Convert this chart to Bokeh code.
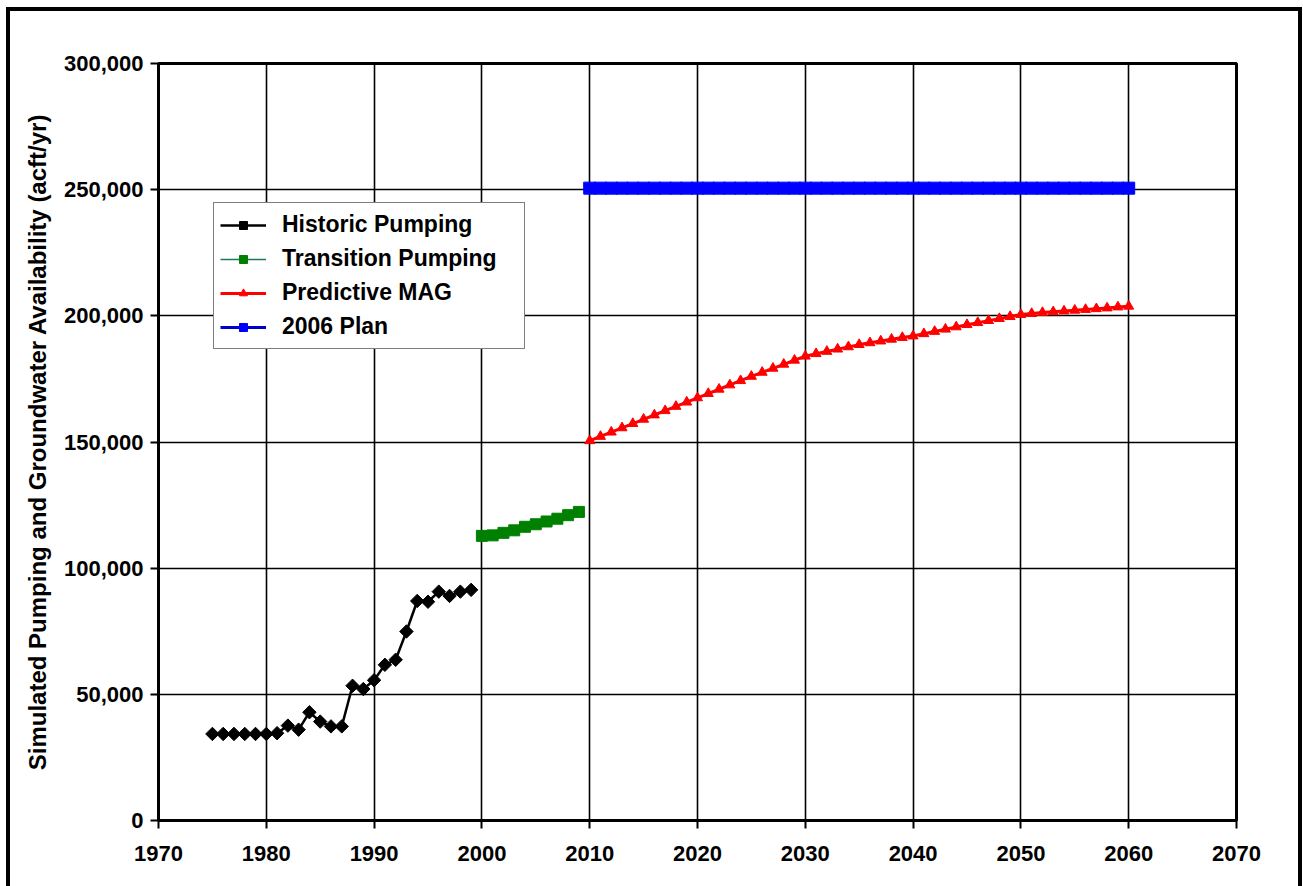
import numpy as np
from bokeh.plotting import figure
from bokeh.models import Range1d, FixedTicker, NumeralTickFormatter, Legend, LegendItem
from bokeh.embed import file_html
from bokeh.resources import INLINE

# ---------------- data ----------------
hist_years = list(range(1975, 2000))
hist_pumping = [34300, 34300, 34300, 34300, 34300, 34300, 34600, 37600, 36000, 42900,
                39200, 37300, 37300, 53400, 52100, 55600, 61700, 63700, 74900, 87000,
                86700, 90700, 89000, 90700, 91400]

trans_years = list(range(2000, 2010))
trans_pumping = [112800, 113000, 114000, 115000, 116400, 117400, 118500, 119600, 121000, 122300]

mag_years = list(range(2010, 2061))
mag_values = [150500, 152200, 153900, 155600, 157300, 159000, 160700, 162400, 164100, 165800,
              167500, 169200, 170900, 172600, 174300, 176000, 177600, 179200, 180800, 182400,
              184000, 185000, 185900, 186800, 187700, 188600, 189300, 190000, 190700, 191400,
              192000, 192900, 193800, 194700, 195600, 196500, 197300, 198100, 198900, 199700,
              200500, 200900, 201300, 201600, 201900, 202200, 202500, 202800, 203100, 203500,
              203800]

plan_years = list(range(2010, 2061))
plan_values = [250600, 250600, 250600, 250600, 250600, 250600, 250600, 250600, 250600, 250600,
               250600, 250600, 250600, 250600, 250600, 250600, 250600, 250600, 250600, 250600,
               250600, 250600, 250600, 250600, 250600, 250600, 250600, 250600, 250600, 250600,
               250600, 250600, 250600, 250600, 250600, 250600, 250600, 250600, 250600, 250600,
               250600, 250600, 250600, 250600, 250600, 250600, 250600, 250600, 250600, 250600,
               250600]

x_ticks = [1970, 1980, 1990, 2000, 2010, 2020, 2030, 2040, 2050, 2060, 2070]
y_ticks = [0, 50000, 100000, 150000, 200000, 250000, 300000]

FONT = "Liberation Sans"

p = figure(frame_width=1078, frame_height=757, output_backend="svg", toolbar_location=None,
           x_range=Range1d(1970, 2070), y_range=Range1d(0, 300000),
           min_border_left=148, min_border_right=62, min_border_top=52, min_border_bottom=66)
p.styles = {"border-left": "4px solid black", "border-top": "4px solid black",
            "border-right": "4px solid black", "margin-left": "6px", "margin-top": "7px"}
p.background_fill_color = "white"
p.border_fill_color = "white"
p.outline_line_color = "black"
p.outline_line_width = 3

# grid
p.xgrid.ticker = FixedTicker(ticks=x_ticks)
p.ygrid.ticker = FixedTicker(ticks=y_ticks)
for g in (p.xgrid, p.ygrid):
    g.grid_line_color = "black"
    g.grid_line_width = 1.6
    g.grid_line_alpha = 1.0

# axes
p.xaxis.ticker = FixedTicker(ticks=x_ticks)
p.yaxis.ticker = FixedTicker(ticks=y_ticks)
p.yaxis.formatter = NumeralTickFormatter(format="0,0")
for ax in (p.xaxis, p.yaxis):
    ax.axis_line_color = "black"
    ax.axis_line_width = 3
    ax.major_tick_line_color = "black"
    ax.major_tick_line_width = 2
    ax.major_tick_out = 8
    ax.major_tick_in = 0
    ax.minor_tick_line_color = None
    ax.major_label_text_font = FONT
    ax.major_label_text_font_size = "22px"
    ax.major_label_text_font_style = "bold"
    ax.major_label_text_color = "black"
p.xaxis.major_label_standoff = 17
p.yaxis.major_label_standoff = 7
p.yaxis.axis_label = "Simulated Pumping and Groundwater Availability (acft/yr)"
p.yaxis.axis_label_text_font = FONT
p.yaxis.axis_label_text_font_size = "24px"
p.yaxis.axis_label_text_font_style = "bold"
p.yaxis.axis_label_text_color = "black"
p.yaxis.axis_label_standoff = 10

# series
h_line = p.line(hist_years, hist_pumping, line_color="black", line_width=2.5)
h_mk = p.scatter(hist_years, hist_pumping, marker="square", angle=np.pi / 4, size=9.5,
                 fill_color="black", line_color="black")

t_line = p.line(trans_years, trans_pumping, line_color="#1f7a5c", line_width=1.5)
t_mk = p.scatter(trans_years, trans_pumping, marker="square", size=11,
                 fill_color="#008000", line_color="#008000")

m_line = p.line(mag_years, mag_values, line_color="red", line_width=3)
m_mk = p.scatter(mag_years, mag_values, marker="triangle", size=10,
                 fill_color="red", line_color="red")

b_line = p.line(plan_years, plan_values, line_color="#0000cc", line_width=3)
b_mk = p.scatter(plan_years, plan_values, marker="square", size=12,
                 fill_color="#0000ff", line_color="#0000ff")

legend = Legend(items=[
    LegendItem(label="Historic Pumping", renderers=[h_line, h_mk]),
    LegendItem(label="Transition Pumping", renderers=[t_line, t_mk]),
    LegendItem(label="Predictive MAG", renderers=[m_line, m_mk]),
    LegendItem(label="2006 Plan", renderers=[b_line, b_mk]),
], location=(55, 471))
legend.border_line_color = "black"
legend.border_line_width = 1.5
legend.background_fill_color = "white"
legend.background_fill_alpha = 1.0
legend.padding = 6
legend.spacing = 3
legend.margin = 0
legend.label_height = 31
legend.label_width = 236
legend.glyph_height = 20
legend.glyph_width = 46
legend.label_standoff = 16
legend.label_text_font = FONT
legend.label_text_font_size = "23px"
legend.label_text_font_style = "bold"
legend.label_text_color = "black"
p.add_layout(legend)

open("out.html", "w").write(file_html(p, INLINE))
